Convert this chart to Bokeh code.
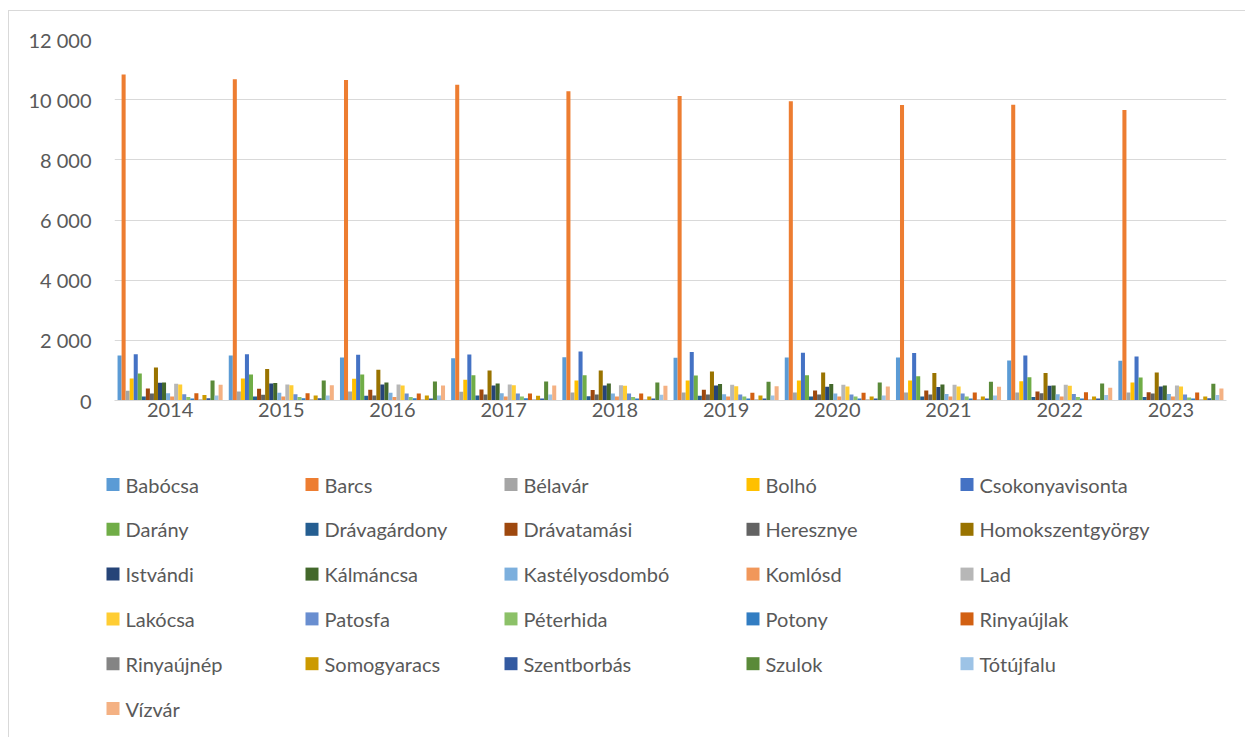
from bokeh.plotting import figure
from bokeh.models import FactorRange, FixedTicker, Range1d, ColumnDataSource
from bokeh.core.properties import value
from bokeh.layouts import column
from bokeh.transform import dodge
from bokeh.embed import file_html
from bokeh.resources import INLINE

years = ["2014", "2015", "2016", "2017", "2018", "2019", "2020", "2021", "2022", "2023"]

babocsa = [1500, 1500, 1430, 1405, 1440, 1420, 1430, 1430, 1330, 1320]
barcs = [10840, 10680, 10650, 10500, 10280, 10120, 9950, 9820, 9830, 9660]
belavar = [320, 300, 300, 290, 265, 265, 265, 265, 265, 265]
bolho = [730, 730, 720, 690, 665, 665, 665, 665, 640, 600]
csokonyavisonta = [1540, 1540, 1520, 1530, 1630, 1610, 1585, 1575, 1495, 1460]
darany = [900, 865, 865, 840, 840, 830, 840, 810, 775, 765]
dravagardony = [135, 135, 155, 165, 145, 155, 135, 135, 120, 120]
dravatamasi = [400, 390, 355, 365, 345, 355, 330, 330, 300, 275]
heresznye = [230, 190, 165, 200, 200, 200, 200, 200, 245, 230]
homokszentgyorgy = [1100, 1050, 1020, 1000, 1000, 965, 930, 910, 910, 930]
istvandi = [590, 565, 530, 500, 500, 500, 455, 445, 490, 465]
kalmancsa = [600, 585, 600, 565, 565, 545, 545, 530, 500, 500]
kastelyosdombo = [245, 255, 255, 245, 235, 210, 235, 220, 210, 220]
komlosd = [135, 135, 120, 135, 135, 135, 135, 135, 135, 135]
lad = [555, 530, 530, 530, 510, 520, 520, 520, 520, 500]
lakocsa = [530, 510, 500, 510, 490, 475, 465, 465, 490, 465]
patosfa = [210, 210, 230, 235, 235, 200, 200, 235, 220, 200]
peterhida = [120, 120, 120, 135, 120, 135, 135, 135, 120, 100]
potony = [65, 75, 75, 75, 65, 65, 65, 65, 65, 65]
rinyaujlak = [245, 245, 235, 235, 235, 255, 255, 265, 275, 265]
rinyaujnep = [35, 35, 35, 35, 35, 35, 35, 35, 35, 35]
somogyaracs = [180, 165, 165, 155, 135, 165, 135, 135, 135, 135]
szentborbas = [75, 75, 65, 65, 65, 65, 65, 65, 65, 75]
szulok = [665, 665, 630, 630, 600, 620, 600, 620, 565, 555]
totujfalu = [165, 165, 165, 200, 190, 165, 165, 165, 180, 180]
vizvar = [520, 510, 500, 500, 490, 475, 465, 455, 420, 400]

series_names = ["Babócsa", "Barcs", "Bélavár", "Bolhó", "Csokonyavisonta", "Darány",
                "Drávagárdony", "Drávatamási", "Heresznye", "Homokszentgyörgy", "Istvándi",
                "Kálmáncsa", "Kastélyosdombó", "Komlósd", "Lad", "Lakócsa", "Patosfa",
                "Péterhida", "Potony", "Rinyaújlak", "Rinyaújnép", "Somogyaracs",
                "Szentborbás", "Szulok", "Tótújfalu", "Vízvár"]
series_values = [babocsa, barcs, belavar, bolho, csokonyavisonta, darany, dravagardony,
                 dravatamasi, heresznye, homokszentgyorgy, istvandi, kalmancsa,
                 kastelyosdombo, komlosd, lad, lakocsa, patosfa, peterhida, potony,
                 rinyaujlak, rinyaujnep, somogyaracs, szentborbas, szulok, totujfalu, vizvar]

y_ticks = [0, 2000, 4000, 6000, 8000, 10000, 12000]
y_tick_labels = ["0", "2 000", "4 000", "6 000", "8 000", "10 000", "12 000"]

colors = ["#5B9BD5", "#ED7D31", "#A5A5A5", "#FFC000", "#4472C4", "#70AD47", "#255E91",
          "#9E480E", "#636363", "#997300", "#264478", "#43682B", "#7CAFDD", "#F1975A",
          "#B7B7B7", "#FFCD33", "#698ED0", "#8CC168", "#327DC2", "#D26012", "#848484",
          "#CC9A00", "#335AA1", "#5A8A39", "#9DC3E6", "#F4B183"]

FONT = "Lato"
TXT = "#595959"
GRID = "#D9D9D9"

W = 1245
H1 = 440
H2 = 737 - H1
LINE = "linear-gradient(#D9D9D9,#D9D9D9)"

# ---------------- bar chart ----------------
p = figure(x_range=FactorRange(*years, range_padding=0), y_range=Range1d(0, 12000),
           width=W, height=H1, output_backend="svg", toolbar_location=None,
           min_border_left=114, min_border_right=19, min_border_top=39, min_border_bottom=40)
p.frame_align = False
p.border_fill_color = None
p.background_fill_color = None

n = len(series_names)
group = 0.945
bw = group / n
data = {"year": years}
for i, vals in enumerate(series_values):
    data["s%d" % i] = vals
src = ColumnDataSource(data)

for i, name in enumerate(series_names):
    off = -group / 2 + bw * (i + 0.5)
    p.vbar(x=dodge("year", off, range=p.x_range), top="s%d" % i, width=bw,
           source=src, fill_color=colors[i], line_color=None)

p.yaxis.ticker = FixedTicker(ticks=y_ticks)
p.yaxis.major_label_overrides = {t: l for t, l in zip(y_ticks, y_tick_labels)}
p.yaxis.axis_line_color = None
p.yaxis.major_tick_line_color = None
p.yaxis.minor_tick_line_color = None
p.yaxis.major_tick_out = 0
p.yaxis.minor_tick_out = 0
p.yaxis.major_label_standoff = 23
p.yaxis.major_label_text_font = FONT
p.yaxis.major_label_text_font_size = "20px"
p.yaxis.major_label_text_color = TXT

p.xaxis.axis_line_color = GRID
p.xaxis.axis_line_width = 1
p.xaxis.major_tick_line_color = None
p.xaxis.minor_tick_line_color = None
p.xaxis.major_tick_out = 0
p.xaxis.minor_tick_out = 0
p.xaxis.major_label_standoff = 2
p.xaxis.major_label_text_font = FONT
p.xaxis.major_label_text_font_size = "20px"
p.xaxis.major_label_text_color = TXT

p.xgrid.grid_line_color = None
p.ygrid.grid_line_color = GRID
p.ygrid.grid_line_width = 1
p.outline_line_color = None
p.styles = {"background": f"{LINE} 8px 10px / 1px {H1}px no-repeat, "
                          f"{LINE} 8px 10px / {W - 8}px 1px no-repeat, white"}

# ---------------- legend (page pixel coordinates) ----------------
leg = figure(width=W, height=H2, output_backend="svg", toolbar_location=None,
             x_range=Range1d(0, W), y_range=Range1d(737, H1),
             x_axis_location=None, y_axis_location=None,
             min_border_left=0, min_border_right=0, min_border_top=0, min_border_bottom=0)
leg.frame_align = False
leg.grid.visible = False
leg.outline_line_color = None
leg.border_fill_color = None
leg.background_fill_color = None
leg.styles = {"background": f"{LINE} 8px 0px / 1px {H2}px no-repeat, white"}

col_x = [106, 305, 504, 746, 960]
row_y0, row_dy = 484, 44.8
sq = 13
lx = [col_x[i % 5] for i in range(n)]
ly = [row_y0 + row_dy * (i // 5) for i in range(n)]
leg_src = ColumnDataSource(dict(
    sx=[x + sq / 2 for x in lx], tx=[x + 19 for x in lx], y=ly,
    name=series_names, color=colors))
leg.rect(x="sx", y="y", width=sq, height=sq, fill_color="color", line_color=None,
         source=leg_src)
leg.text(x="tx", y="y", text="name", source=leg_src, text_font=value(FONT),
         text_font_size="20px", text_color=TXT, text_baseline="middle", text_align="left")

layout = column(p, leg, spacing=0)
open("out.html", "w").write(file_html(layout, INLINE))
